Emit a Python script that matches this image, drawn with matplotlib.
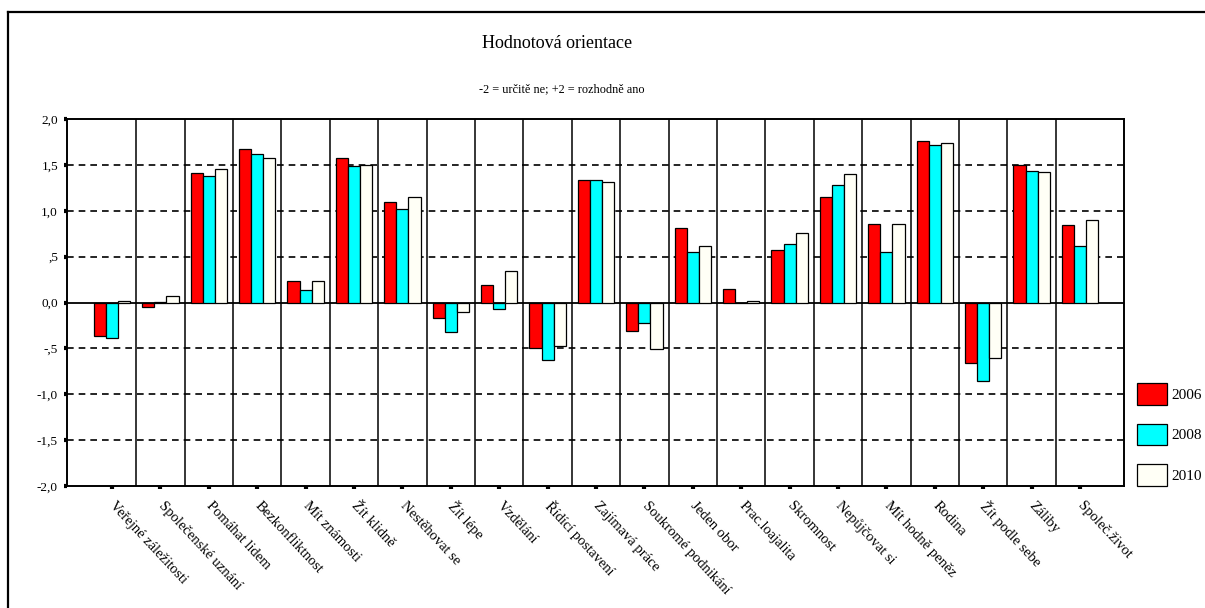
import matplotlib
matplotlib.use("Agg")
import matplotlib.pyplot as plt
from matplotlib.lines import Line2D
import numpy as np

plt.rcParams['font.family'] = ['Liberation Serif', 'DejaVu Serif']

categories = ["Veřejné záležitosti", "Společenské uznání", "Pomáhat lidem",
              "Bezkonfliktnost", "Mít známosti", "Žít klidně", "Nestěhovat se",
              "Žít lépe", "Vzdělání", "Řídící postavení", "Zajímavá práce",
              "Soukromé podnikání", "Jeden obor", "Prac.loajalita", "Skromnost",
              "Nepůjčovat si", "Mít hodně peněz", "Rodina", "Žít podle sebe",
              "Záliby", "Společ.život"]
v2006 = [-0.37, -0.05, 1.41, 1.67, 0.23, 1.57, 1.10, -0.17, 0.19, -0.50, 1.33,
         -0.31, 0.81, 0.15, 0.57, 1.15, 0.86, 1.76, -0.66, 1.50, 0.85]
v2008 = [-0.39, 0.01, 1.38, 1.62, 0.14, 1.49, 1.02, -0.32, -0.07, -0.63, 1.33,
         -0.22, 0.55, -0.01, 0.64, 1.28, 0.55, 1.72, -0.86, 1.43, 0.62]
v2010 = [0.02, 0.07, 1.45, 1.57, 0.23, 1.50, 1.15, -0.10, 0.34, -0.47, 1.31,
         -0.51, 0.62, 0.02, 0.76, 1.40, 0.86, 1.74, -0.60, 1.42, 0.90]
years = ["2006", "2008", "2010"]
yticks = [-2.0, -1.5, -1.0, -0.5, 0.0, 0.5, 1.0, 1.5, 2.0]
ytick_labels = ["-2,0", "-1,5", "-1,0", "-,5", "0,0", ",5", "1,0", "1,5", "2,0"]

W, H = 1205, 608
fig = plt.figure(figsize=(W / 100, H / 100), dpi=100)
ax = fig.add_axes([67 / W, 1 - 486 / H, (1124 - 67) / W, (486 - 119) / H])

x = np.arange(len(categories))
bw = 0.25
colors = ["#FF0000", "#00FFFF", "#FFFFF6"]
bars = []
for k, (vals, c) in enumerate(zip([v2006, v2008, v2010], colors)):
    b = ax.bar(x + (k - 1) * bw, vals, width=bw, color=c, edgecolor="black",
               linewidth=0.9, zorder=3, label=years[k])
    bars.append(b)

ax.set_xlim(-0.93, len(categories) - 1 + 0.91)
ax.set_ylim(-2, 2)

for yv in yticks:
    if yv in (-2.0, 2.0):
        continue
    if yv == 0.0:
        ax.axhline(yv, color="black", linewidth=1.3, zorder=2)
    else:
        ax.axhline(yv, color="black", linewidth=1.2, linestyle=(0, (4, 3)), zorder=1)
for i in range(len(categories) - 1):
    ax.axvline(i + 0.5, color="black", linewidth=1.1, zorder=1)

for s in ax.spines.values():
    s.set_linewidth(1.4)

ax.set_yticks(yticks)
ax.set_yticklabels(ytick_labels, fontsize=9.5)
ax.set_xticks(x)
ax.set_xticklabels(categories, fontsize=10.5, rotation=-47,
                   rotation_mode="anchor", ha="left", va="center")
ax.tick_params(axis="both", direction="out", length=2.5, width=3, pad=4)
ax.tick_params(axis="x", pad=10)

fig.text(0.462, 1 - 44 / H, "Hodnotová orientace", ha="center", va="center", fontsize=13)
fig.text(0.466, 1 - 89 / H, "-2 = určitě ne; +2 = rozhodně ano", ha="center",
         va="center", fontsize=8.8)

fig.legend(handles=bars, labels=years, loc="upper left",
           bbox_to_anchor=(1137 / W, 1 - 383 / H), frameon=False, fontsize=11,
           handlelength=1.95, handleheight=1.8, labelspacing=1.25,
           handletextpad=0.3, borderpad=0, borderaxespad=0)

fig.add_artist(Line2D([8 / W, 1], [1 - 12 / H, 1 - 12 / H], color="black",
                      linewidth=1.6, transform=fig.transFigure))
fig.add_artist(Line2D([8 / W, 8 / W], [0, 1 - 12 / H], color="black",
                      linewidth=1.6, transform=fig.transFigure))

fig.savefig("out.png", dpi=100)
